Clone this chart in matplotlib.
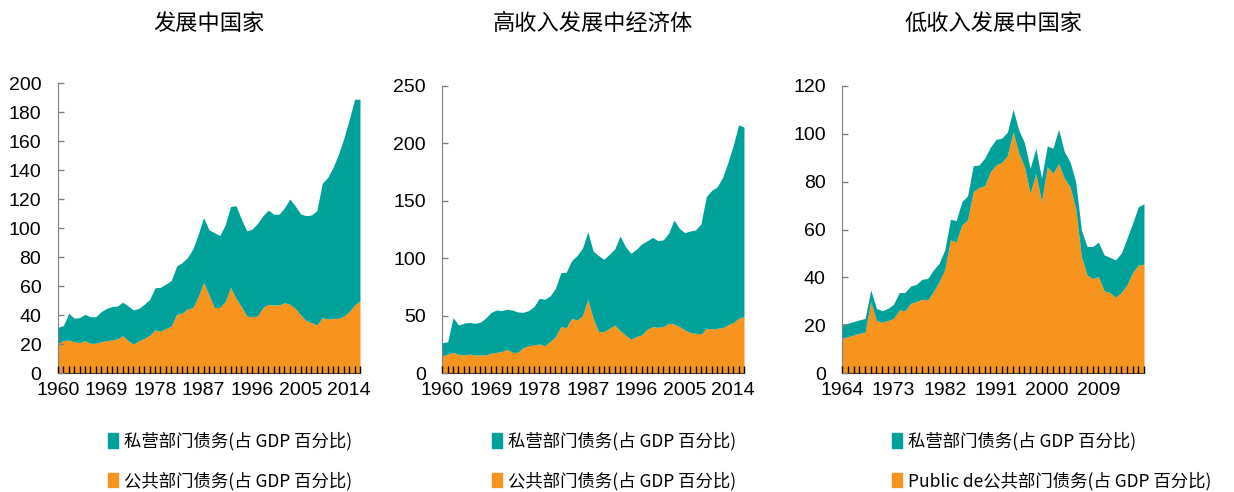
import matplotlib
matplotlib.use("Agg")
import matplotlib.pyplot as plt
import matplotlib.patches as mpatches
import numpy as np

plt.rcParams["font.family"] = ["Liberation Sans", "Noto Sans CJK SC", "DejaVu Sans"]

TEAL = "#00A19B"
ORANGE = "#F7941E"

# --- data (debt, % of GDP) ---
years_em = list(range(1960, 2017))
total_em = [31.7, 33, 41.4, 38, 38.4, 40.7, 39, 39, 42.5, 44.8,
            46, 46.4, 49, 46.4, 43.7, 44.8, 47.6, 51, 59, 59.3,
            61.6, 64, 74, 76.3, 79.8, 85.7, 95.9, 107.4, 98.9, 97,
            95, 102.3, 115, 115.6, 106.4, 98.2, 99.5, 103.4, 108.7, 112.6,
            109.7, 109.7, 114.3, 120.2, 115.4, 109.9, 108.7, 109.2, 112.2, 131,
            135, 142, 151, 162, 175, 189, 189]
public_em = [20.7, 22.5, 23, 21.8, 21.1, 22.5, 20.7, 20.7, 21.8, 22.5,
             23, 23.7, 26, 22.5, 20.2, 22.5, 24.1, 26.2, 29.9, 29,
             30.8, 32.6, 40.7, 41.4, 44.4, 45.3, 52.9, 62.5, 54, 45.3,
             45.5, 49.4, 59.3, 51.7, 46, 39.5, 39, 39.5, 45.3, 47.6,
             47.1, 47.1, 48.7, 47.6, 44.8, 40.2, 36.3, 34.9, 33.3, 38.4,
             37.5, 37.9, 37.9, 39.5, 42.5, 47.1, 49.9]

years_hi = list(range(1960, 2017))
total_hi = [26.6, 27.5, 48.4, 42, 43.5, 44.3, 43.5, 44.3, 47.8, 52.7,
            55, 54.5, 55.6, 55, 53.3, 53, 54.5, 57.9, 65.2, 64.3,
            67.2, 73.9, 87.5, 87.8, 97.9, 102.3, 108.6, 123.1, 106.3, 102.3,
            99.1, 103.4, 108, 119.4, 110.1, 104.3, 107.8, 112.4, 115, 118.2,
            115.3, 115.9, 121.7, 133.3, 126, 122.2, 123.7, 124.6, 129.8, 153.5,
            159, 162, 170, 183, 198, 216, 214]
public_hi = [15, 16.8, 18.2, 16.5, 15.9, 16.8, 15.9, 15.9, 15.9, 17.4,
             18.2, 18.8, 20.9, 18.2, 18.2, 22.3, 24, 24.6, 25.5, 24,
             27.5, 31.9, 40.6, 39.7, 47.8, 46.3, 49.8, 64.3, 47.8, 36.2,
             36.2, 39.1, 42, 37, 33.3, 29.5, 31.9, 33.3, 38.2, 40.6,
             40, 40.6, 43.5, 42.9, 40.6, 37.7, 35.3, 34.8, 33.9, 39.1,
             38.5, 39.1, 39.7, 42, 44, 47.8, 49.2]

years_lo = list(range(1964, 2018))
total_lo = [20.6, 20.9, 21.6, 22.3, 22.9, 34.8, 27.1, 26.1, 27.1, 28.8,
            33.7, 33.7, 36.4, 37.1, 39.2, 39.6, 43.1, 45.9, 51.5, 64.3,
            63.7, 71.6, 74, 86.6, 86.9, 89.7, 94.3, 97.6, 98.1, 100.6,
            110.2, 101.5, 96.2, 85.5, 93.9, 81.4, 94.9, 93.9, 101.8, 92.5,
            88.3, 80, 59.8, 52.9, 52.9, 54.7, 49.4, 48.4, 47.3, 50.1,
            56.3, 62.6, 69.5, 70.7]
public_lo = [14.6, 15.3, 16, 16.7, 17.1, 29.9, 22, 21.3, 22, 22.9,
             26.4, 26.1, 29.2, 29.9, 30.9, 30.6, 34.1, 38.2, 43.4, 55.6,
             54.9, 61.9, 64, 75.8, 77.6, 78.2, 84.1, 86.9, 88, 90.8,
             100.8, 91.8, 86.2, 75.1, 83.4, 71.6, 86.2, 83.4, 87.6, 81.4,
             77.9, 68.8, 48.7, 41, 39.6, 40.3, 34.4, 33.7, 31.7, 33.7,
             36.9, 42, 45.2, 45.5]

titles = ["发展中国家", "高收入发展中经济体", "低收入发展中国家"]
private_label = "私营部门债务(占 GDP 百分比)"
public_labels = ["公共部门债务(占 GDP 百分比)", "公共部门债务(占 GDP 百分比)",
                 "Public de公共部门债务(占 GDP 百分比)"]

panels = [
    (years_em, total_em, public_em, 200, 20),
    (years_hi, total_hi, public_hi, 250, 50),
    (years_lo, total_lo, public_lo, 120, 20),
]

W, H = 1234, 492
fig = plt.figure(figsize=(W / 100, H / 100), dpi=100)

# pixel boxes (left, right, top) of each plot area
boxes = [(58, 360, 83.3), (442.3, 744, 85.7), (842.3, 1144, 85.7)]
bottom_px = 373.3
legend_x = [108, 492, 892]

for i, (yrs, total, public, ymax, ystep) in enumerate(panels):
    l, r, t = boxes[i]
    ax = fig.add_axes([l / W, 1 - bottom_px / H, (r - l) / W, (bottom_px - t) / H])
    ax.fill_between(yrs, 0, public, color=ORANGE, linewidth=0)
    ax.fill_between(yrs, public, total, color=TEAL, linewidth=0)
    ax.set_xlim(yrs[0], yrs[-1])
    ax.set_ylim(0, ymax)
    ax.set_yticks(np.arange(0, ymax + 1, ystep))
    ax.set_xticks(yrs)
    ax.set_xticklabels([str(y) if (y - yrs[0]) % 9 == 0 else "" for y in yrs])
    ax.tick_params(axis="x", direction="in", length=5, width=1, colors="black",
                   labelsize=14, pad=6)
    ax.tick_params(axis="y", direction="in", length=4, width=1, color="#7f7f7f",
                   labelcolor="black", labelsize=14, pad=12)
    for s in ["top", "right"]:
        ax.spines[s].set_visible(False)
    ax.spines["left"].set_color("#7f7f7f")
    ax.spines["bottom"].set_color("#404040")
    ax.set_axisbelow(False)

    fig.text((l + r) / 2 / W, 1 - 23 / H, titles[i], ha="center", va="center",
             fontsize=16, family=["Noto Sans CJK SC"])

    handles = [mpatches.Patch(color=TEAL, label=private_label),
               mpatches.Patch(color=ORANGE, label=public_labels[i])]
    fig.legend(handles=handles, loc="upper left",
               bbox_to_anchor=(legend_x[i] / W, 1 - 432 / H),
               frameon=False, borderpad=0, borderaxespad=0,
               handlelength=0.55, handleheight=0.9, handletextpad=0.35,
               labelspacing=1.2, prop={"family": ["Noto Sans CJK SC"], "size": 12.5})

fig.savefig("out.png", dpi=100)
